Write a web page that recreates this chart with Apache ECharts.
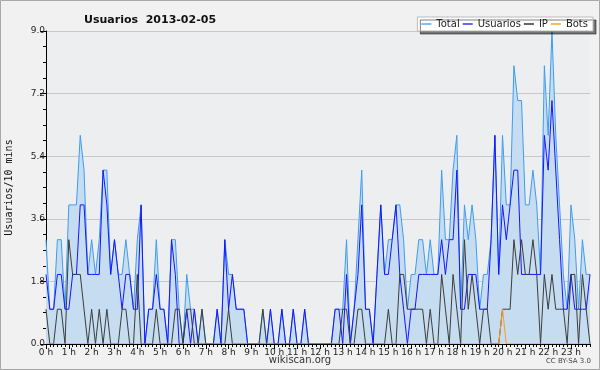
<!DOCTYPE html>
<html>
<head>
<meta charset="utf-8">
<script src="https://cdn.jsdelivr.net/npm/echarts@6/dist/echarts.min.js"></script>
<style>
  html, body { margin: 0; padding: 0; background: #f1f1f1; }
  #chart { width: 600px; height: 370px; }
</style>
</head>
<body>
<div id="chart"></div>
<script>
// 10 minute slots, 144 per day
var hourLabels = ['0 h', '1 h', '2 h', '3 h', '4 h', '5 h', '6 h', '7 h', '8 h', '9 h', '10 h', '11 h',
  '12 h', '13 h', '14 h', '15 h', '16 h', '17 h', '18 h', '19 h', '20 h', '21 h', '22 h', '23 h']
var yTicks = ['0.0', '1.8', '3.6', '5.4', '7.2', '9.0']

var total = [
  3, 1, 1, 3, 3, 1, 4, 4, 4, 6, 5, 2, 3, 2, 3, 5, 5, 2, 3, 2,
  2, 3, 2, 1, 3, 4, 0, 1, 1, 3, 1, 1, 0, 3, 3, 1, 0, 2, 1, 1,
  0, 1, 0, 0, 0, 1, 0, 3, 2, 2, 1, 1, 1, 0, 0, 0, 0, 1, 0, 1,
  0, 0, 1, 0, 0, 1, 0, 0, 1, 0, 0, 0, 0, 0, 0, 0, 1, 1, 1, 3,
  0, 1, 3, 5, 1, 1, 0, 2, 4, 2, 3, 3, 4, 4, 3, 1, 2, 2, 3, 3,
  2, 3, 2, 2, 5, 3, 3, 5, 6, 1, 4, 3, 4, 3, 1, 2, 2, 3, 6, 2,
  6, 4, 4, 8, 7, 7, 4, 4, 5, 4, 2, 8, 6, 9, 6, 4, 2, 1, 4, 3,
  1, 3, 2, 2
]
var usuarios = [
  2, 1, 1, 2, 2, 1, 1, 2, 2, 4, 4, 2, 2, 2, 2, 5, 4, 2, 3, 2,
  1, 2, 2, 1, 1, 4, 0, 1, 1, 2, 1, 1, 0, 3, 2, 0, 0, 1, 0, 1,
  0, 0, 0, 0, 0, 1, 0, 3, 1, 2, 1, 1, 1, 0, 0, 0, 0, 0, 0, 1,
  0, 0, 1, 0, 0, 1, 0, 0, 1, 0, 0, 0, 0, 0, 0, 0, 1, 1, 0, 2,
  0, 1, 2, 4, 1, 1, 0, 2, 4, 2, 2, 3, 4, 2, 1, 0, 1, 1, 2, 2,
  2, 2, 2, 2, 3, 2, 3, 3, 5, 1, 1, 2, 2, 2, 1, 1, 1, 3, 6, 2,
  4, 3, 4, 5, 5, 2, 2, 2, 2, 2, 2, 6, 5, 7, 5, 3, 1, 1, 2, 1,
  1, 1, 1, 2
]
var ip = [
  1, 0, 0, 1, 1, 0, 3, 2, 2, 2, 1, 0, 1, 0, 1, 0, 1, 0, 0, 0,
  1, 1, 0, 0, 2, 0, 0, 0, 0, 1, 0, 0, 0, 0, 1, 1, 0, 1, 1, 0,
  0, 1, 0, 0, 0, 0, 0, 0, 1, 0, 0, 0, 0, 0, 0, 0, 0, 1, 0, 0,
  0, 0, 0, 0, 0, 0, 0, 0, 0, 0, 0, 0, 0, 0, 0, 0, 0, 0, 1, 1,
  0, 0, 1, 1, 0, 0, 0, 0, 0, 0, 1, 0, 0, 2, 2, 1, 1, 1, 1, 1,
  0, 1, 0, 0, 2, 1, 0, 2, 1, 0, 3, 1, 2, 1, 0, 1, 1, 0, 0, 0,
  1, 1, 1, 3, 2, 3, 2, 2, 3, 2, 0, 2, 1, 2, 1, 1, 1, 0, 2, 2,
  0, 2, 1, 0
]
var bots = [
  0, 0, 0, 0, 0, 0, 0, 0, 0, 0, 0, 0, 0, 0, 0, 0, 0, 0, 0, 0,
  0, 0, 0, 0, 0, 0, 0, 0, 0, 0, 0, 0, 0, 0, 0, 0, 0, 0, 0, 0,
  0, 0, 0, 0, 0, 0, 0, 0, 0, 0, 0, 0, 0, 0, 0, 0, 0, 0, 0, 0,
  0, 0, 0, 0, 0, 0, 0, 0, 0, 0, 0, 0, 0, 0, 0, 0, 0, 0, 0, 0,
  0, 0, 0, 0, 0, 0, 0, 0, 0, 0, 0, 0, 0, 0, 0, 0, 0, 0, 0, 0,
  0, 0, 0, 0, 0, 0, 0, 0, 0, 0, 0, 0, 0, 0, 0, 0, 0, 0, 0, 0,
  1, 0, 0, 0, 0, 0, 0, 0, 0, 0, 0, 0, 0, 0, 0, 0, 0, 0, 0, 0,
  0, 0, 0, 0
]

// category per slot: hour label on the hour, hh:mm otherwise
var slots = []
hourLabels.forEach(function (h, hi) {
  slots.push(h)
  for (var m = 1; m < 6; m++) slots.push(hi + ':' + m + '0')
})

var font = 'DejaVu Sans'
var myChart = echarts.init(document.getElementById('chart'))
var option = {
  backgroundColor: '#f1f1f1',
  animation: false,
  title: {
    text: 'Usuarios  2013-02-05',
    left: 79,
    top: 10,
    textStyle: { fontFamily: font, fontSize: 11, fontWeight: 'bold', color: '#111' }
  },
  legend: {
    data: ['Total', 'Usuarios', 'IP', 'Bots'],
    icon: 'rect',
    right: 7,
    top: 17,
    padding: [2, 5, 2, 4],
    itemGap: 3,
    itemWidth: 10,
    itemHeight: 1.5,
    backgroundColor: '#fff',
    borderColor: '#bbb',
    borderWidth: 1,
    shadowColor: 'rgba(0,0,0,0.5)',
    shadowOffsetX: 3,
    shadowOffsetY: 3,
    textStyle: { fontFamily: font, fontSize: 10, color: '#222' }
  },
  grid: {
    left: 46,
    right: 10,
    top: 31,
    bottom: 26,
    outerBoundsMode: 'none',
    show: true,
    backgroundColor: '#edeef0',
    borderWidth: 0
  },
  xAxis: [
    {
      type: 'category',
      data: slots,
      boundaryGap: false,
      z: 10,
      axisLine: { lineStyle: { color: '#000', width: 1 } },
      axisTick: { interval: 5, length: 5, lineStyle: { color: '#000' } },
      axisLabel: { interval: 5, margin: 4, fontFamily: font, fontSize: 9, color: '#222' },
      splitLine: { show: false }
    },
    { // minor ticks every 10 mins
      type: 'category',
      data: slots,
      boundaryGap: false,
      position: 'bottom',
      axisLine: { show: false },
      axisTick: { interval: 0, length: 3, lineStyle: { color: '#000' } },
      axisLabel: { show: false },
      splitLine: { show: false }
    }
  ],
  yAxis: {
    type: 'value',
    min: 0,
    max: 9,
    interval: 1.8,
    name: 'Usuarios/10 mins',
    nameLocation: 'middle',
    nameRotate: 90,
    nameGap: 32,
    nameTextStyle: { fontFamily: 'DejaVu Sans Mono', fontSize: 10, color: '#111' },
    axisLine: { show: true, lineStyle: { color: '#000' } },
    axisTick: { show: true, length: 6, lineStyle: { color: '#000' } },
    minorTick: { show: true, splitNumber: 4, length: 3, lineStyle: { color: '#000' } },
    axisLabel: {
      margin: 1,
      fontFamily: font,
      fontSize: 9,
      color: '#222',
      formatter: function (v) { return yTicks[Math.round(v / 1.8)] }
    },
    splitLine: { lineStyle: { color: '#c8c8c8', width: 1 } }
  },
  series: [
    {
      name: 'Total',
      type: 'line',
      symbol: 'none',
      data: total,
      lineStyle: { color: '#3d9cf0', width: 1 },
      itemStyle: { color: '#4fa8f8' },
      areaStyle: { color: '#c6dcf0', opacity: 1 }
    },
    {
      name: 'Usuarios',
      type: 'line',
      symbol: 'none',
      data: usuarios,
      lineStyle: { color: '#1515ff', width: 1 },
      itemStyle: { color: '#3030ff' }
    },
    {
      name: 'IP',
      type: 'line',
      symbol: 'none',
      data: ip,
      lineStyle: { color: '#3c3c3c', width: 1 },
      itemStyle: { color: '#333' }
    },
    {
      name: 'Bots',
      type: 'line',
      symbol: 'none',
      data: bots,
      lineStyle: { color: '#ff9a1a', width: 1 },
      itemStyle: { color: '#ffa020' }
    }
  ],
  graphic: [
    {
      type: 'rect',
      shape: { x: 0.5, y: 0.5, width: 599, height: 369 },
      style: { fill: null, stroke: '#a8a8a8', lineWidth: 1 },
      silent: true
    },
    {
      type: 'text',
      left: 'center',
      top: 355,
      style: { text: 'wikiscan.org', font: '10px "DejaVu Sans"', fill: '#333' }
    },
    {
      type: 'text',
      right: 9,
      top: 358,
      style: { text: 'CC BY-SA 3.0', font: '7px "DejaVu Sans"', fill: '#444' }
    }
  ]
}
myChart.setOption(option, true)
</script>
</body>
</html>
